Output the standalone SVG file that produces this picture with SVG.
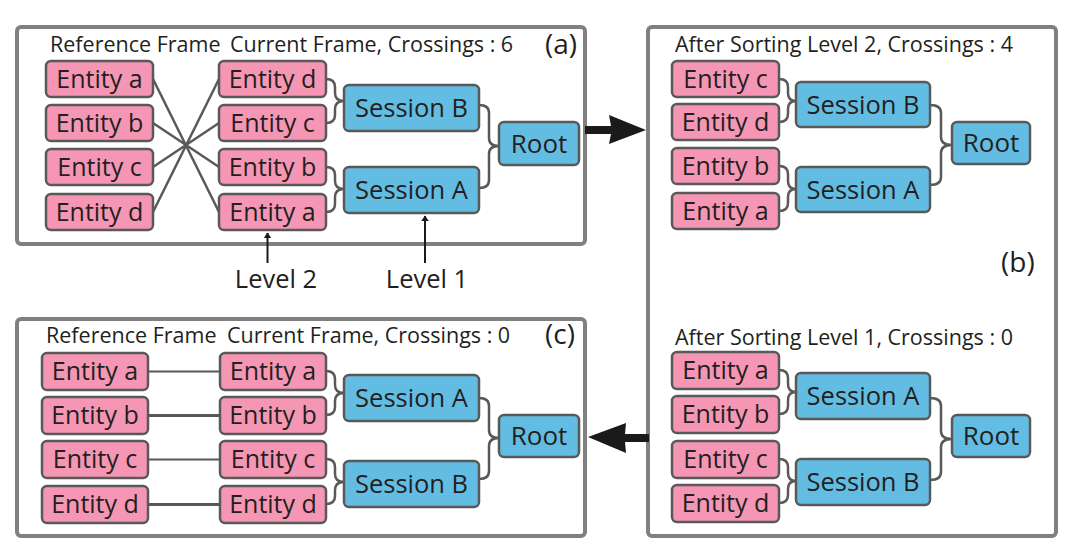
<svg xmlns="http://www.w3.org/2000/svg" width="1076" height="549" viewBox="0 0 1076 549">
<defs>
<style>
.panel{fill:#fff;stroke:#808080;stroke-width:4}
.ent{fill:#f596b5;stroke:#595959;stroke-width:2.5}
.ses{fill:#63bde3;stroke:#595959;stroke-width:2.5}
.t{font-family:"Open Sans","Noto Sans",sans-serif;fill:#231f20}
.lbl{font-size:25px;text-anchor:middle}
.sl{font-size:25.5px;text-anchor:middle}
.rl{font-size:26px;text-anchor:middle}
.title{font-size:21.5px}
.big{font-size:28px}
.con{fill:none;stroke:#595959;stroke-width:2.5}
.arr{fill:#1a1a1a}
</style>
<marker id="ah" viewBox="0 0 10 10" refX="9" refY="5" markerWidth="6" markerHeight="8" markerUnits="userSpaceOnUse" orient="auto" preserveAspectRatio="none">
<path d="M0,0 L10,5 L0,10 Z" fill="#1a1a1a"/>
</marker>
</defs>
<rect width="1076" height="549" fill="#fff"/>

<g id="panel-a">
<rect class="panel" x="17" y="27" width="568" height="217" rx="4"/>
<text class="t title" x="50" y="52">Reference Frame</text>
<text class="t title" x="230" y="52">Current Frame, Crossings : 6</text>
<text class="t big" x="545" y="54">(a)</text>
</g>
<g id="panel-b">
<rect class="panel" x="648" y="27" width="408" height="509" rx="4"/>
<text class="t title" x="675" y="52">After Sorting Level 2, Crossings : 4</text>
<text class="t title" x="675" y="345">After Sorting Level 1, Crossings : 0</text>
<text class="t big" x="1001" y="272">(b)</text>
</g>
<g id="panel-c">
<rect class="panel" x="17" y="319" width="568" height="217" rx="4"/>
<text class="t title" x="46" y="343">Reference Frame</text>
<text class="t title" x="227" y="343">Current Frame, Crossings : 0</text>
<text class="t big" x="545" y="344">(c)</text>
</g>

<g id="connectors">
<line class="con" x1="153" y1="79" x2="219" y2="212"/>
<line class="con" x1="153" y1="123" x2="219" y2="167"/>
<line class="con" x1="153" y1="167" x2="219" y2="123"/>
<line class="con" x1="153" y1="212" x2="219" y2="79"/>
<path class="con" d="M326,79 Q335,79 335,87 L335,93 Q335,101 344,101 Q335,101 335,109 L335,115 Q335,123 326,123"/>
<path class="con" d="M326,167 Q335,167 335,175 L335,181 Q335,189 344,189 Q335,189 335,197 L335,204 Q335,212 326,212"/>
<path class="con" d="M479,105 Q489,105 489,113 L489,138 Q489,146 499,146 Q489,146 489,154 L489,180 Q489,188 479,188"/>
<path class="con" d="M779,79 Q788,79 788,87 L788,93 Q788,101 796,101 Q788,101 788,109 L788,114 Q788,122 779,122"/>
<path class="con" d="M779,166 Q788,166 788,174 L788,181 Q788,189 796,189 Q788,189 788,197 L788,203 Q788,211 779,211"/>
<path class="con" d="M930,105 Q941,105 941,113 L941,137 Q941,145 952,145 Q941,145 941,153 L941,177 Q941,185 930,185"/>
<path class="con" d="M779,370 Q788,370 788,378 L788,384 Q788,392 796,392 Q788,392 788,400 L788,406 Q788,414 779,414"/>
<path class="con" d="M779,459 Q788,459 788,467 L788,473 Q788,481 796,481 Q788,481 788,489 L788,495 Q788,503 779,503"/>
<path class="con" d="M930,398 Q941,398 941,406 L941,431 Q941,439 952,439 Q941,439 941,447 L941,472 Q941,480 930,480"/>
<line class="con" x1="148" y1="371.5" x2="220" y2="371.5" style="stroke-width:2"/>
<line class="con" x1="148" y1="415.5" x2="220" y2="415.5" style="stroke-width:3"/>
<line class="con" x1="148" y1="459.5" x2="220" y2="459.5" style="stroke-width:2"/>
<line class="con" x1="148" y1="504.5" x2="220" y2="504.5" style="stroke-width:3"/>
<path class="con" d="M326,371 Q335,371 335,379 L335,385 Q335,393 344,393 Q335,393 335,401 L335,407 Q335,415 326,415"/>
<path class="con" d="M326,459 Q335,459 335,467 L335,474 Q335,482 344,482 Q335,482 335,490 L335,496 Q335,504 326,504"/>
<path class="con" d="M479,398 Q489,398 489,406 L489,430 Q489,438 499,438 Q489,438 489,446 L489,471 Q489,479 479,479"/>
<path class="arr" d="M585,126 L611,126 L609,115 L646,130 L609,144 L611,134 L585,134 Z"/>
<path class="arr" d="M649,434 L625,434 L626,423 L588,437 L626,453 L625,442 L649,442 Z"/>
<line x1="267.5" y1="263" x2="267.5" y2="233" stroke="#1a1a1a" stroke-width="2" marker-end="url(#ah)"/>
<line x1="425" y1="263" x2="425" y2="216" stroke="#1a1a1a" stroke-width="2" marker-end="url(#ah)"/>
</g>

<g id="level-labels">
<text class="t" x="276" y="288" font-size="25.5" text-anchor="middle">Level 2</text>
<text class="t" x="427" y="288" font-size="25.5" text-anchor="middle">Level 1</text>
</g>

<g id="a-ref-a"><rect class="ent" x="46" y="61" width="107" height="36" rx="5"/><text class="t lbl" x="99.5" y="88">Entity a</text></g>
<g id="a-ref-b"><rect class="ent" x="46" y="105" width="107" height="36" rx="5"/><text class="t lbl" x="99.5" y="132">Entity b</text></g>
<g id="a-ref-c"><rect class="ent" x="46" y="149" width="107" height="36" rx="5"/><text class="t lbl" x="99.5" y="176">Entity c</text></g>
<g id="a-ref-d"><rect class="ent" x="46" y="194" width="107" height="36" rx="5"/><text class="t lbl" x="99.5" y="221">Entity d</text></g>
<g id="a-cur-d"><rect class="ent" x="219" y="61" width="107" height="36" rx="5"/><text class="t lbl" x="272.5" y="88">Entity d</text></g>
<g id="a-cur-c"><rect class="ent" x="219" y="105" width="107" height="36" rx="5"/><text class="t lbl" x="272.5" y="132">Entity c</text></g>
<g id="a-cur-b"><rect class="ent" x="219" y="149" width="107" height="36" rx="5"/><text class="t lbl" x="272.5" y="176">Entity b</text></g>
<g id="a-cur-a"><rect class="ent" x="219" y="194" width="107" height="36" rx="5"/><text class="t lbl" x="272.5" y="221">Entity a</text></g>
<g id="a-ses-b"><rect class="ses" x="344" y="85" width="135" height="46" rx="5"/><text class="t sl" x="411.5" y="117">Session B</text></g>
<g id="a-ses-a"><rect class="ses" x="344" y="167" width="135" height="46" rx="5"/><text class="t sl" x="411.5" y="199">Session A</text></g>
<g id="a-root"><rect class="ses" x="499" y="122" width="80" height="43" rx="5"/><text class="t rl" x="539" y="153">Root</text></g>

<g id="b1-c"><rect class="ent" x="672" y="61" width="107" height="36" rx="5"/><text class="t lbl" x="725.5" y="88">Entity c</text></g>
<g id="b1-d"><rect class="ent" x="672" y="104" width="107" height="36" rx="5"/><text class="t lbl" x="725.5" y="131">Entity d</text></g>
<g id="b1-b"><rect class="ent" x="672" y="148" width="107" height="36" rx="5"/><text class="t lbl" x="725.5" y="175">Entity b</text></g>
<g id="b1-a"><rect class="ent" x="672" y="193" width="107" height="36" rx="5"/><text class="t lbl" x="725.5" y="220">Entity a</text></g>
<g id="b1-ses-b"><rect class="ses" x="796" y="82" width="134" height="45" rx="5"/><text class="t sl" x="863" y="114">Session B</text></g>
<g id="b1-ses-a"><rect class="ses" x="796" y="167" width="134" height="45" rx="5"/><text class="t sl" x="863" y="199">Session A</text></g>
<g id="b1-root"><rect class="ses" x="952" y="122" width="78" height="42" rx="5"/><text class="t rl" x="991" y="152">Root</text></g>

<g id="b2-a"><rect class="ent" x="672" y="352" width="107" height="37" rx="5"/><text class="t lbl" x="725.5" y="379">Entity a</text></g>
<g id="b2-b"><rect class="ent" x="672" y="396" width="107" height="37" rx="5"/><text class="t lbl" x="725.5" y="423">Entity b</text></g>
<g id="b2-c"><rect class="ent" x="672" y="441" width="107" height="37" rx="5"/><text class="t lbl" x="725.5" y="468">Entity c</text></g>
<g id="b2-d"><rect class="ent" x="672" y="485" width="107" height="37" rx="5"/><text class="t lbl" x="725.5" y="512">Entity d</text></g>
<g id="b2-ses-a"><rect class="ses" x="796" y="373" width="134" height="46" rx="5"/><text class="t sl" x="863" y="405">Session A</text></g>
<g id="b2-ses-b"><rect class="ses" x="796" y="459" width="134" height="46" rx="5"/><text class="t sl" x="863" y="491">Session B</text></g>
<g id="b2-root"><rect class="ses" x="952" y="415" width="78" height="42" rx="5"/><text class="t rl" x="991" y="445">Root</text></g>

<g id="c-ref-a"><rect class="ent" x="42" y="353" width="106" height="37" rx="5"/><text class="t lbl" x="95" y="380">Entity a</text></g>
<g id="c-ref-b"><rect class="ent" x="42" y="397" width="106" height="37" rx="5"/><text class="t lbl" x="95" y="424">Entity b</text></g>
<g id="c-ref-c"><rect class="ent" x="42" y="441" width="106" height="37" rx="5"/><text class="t lbl" x="95" y="468">Entity c</text></g>
<g id="c-ref-d"><rect class="ent" x="42" y="486" width="106" height="37" rx="5"/><text class="t lbl" x="95" y="513">Entity d</text></g>
<g id="c-cur-a"><rect class="ent" x="220" y="353" width="106" height="37" rx="5"/><text class="t lbl" x="273" y="380">Entity a</text></g>
<g id="c-cur-b"><rect class="ent" x="220" y="397" width="106" height="37" rx="5"/><text class="t lbl" x="273" y="424">Entity b</text></g>
<g id="c-cur-c"><rect class="ent" x="220" y="441" width="106" height="37" rx="5"/><text class="t lbl" x="273" y="468">Entity c</text></g>
<g id="c-cur-d"><rect class="ent" x="220" y="486" width="106" height="37" rx="5"/><text class="t lbl" x="273" y="513">Entity d</text></g>
<g id="c-ses-a"><rect class="ses" x="344" y="375" width="135" height="46" rx="5"/><text class="t sl" x="411.5" y="407">Session A</text></g>
<g id="c-ses-b"><rect class="ses" x="344" y="461" width="135" height="46" rx="5"/><text class="t sl" x="411.5" y="493">Session B</text></g>
<g id="c-root"><rect class="ses" x="499" y="415" width="80" height="42" rx="5"/><text class="t rl" x="539" y="445">Root</text></g>
</svg>
